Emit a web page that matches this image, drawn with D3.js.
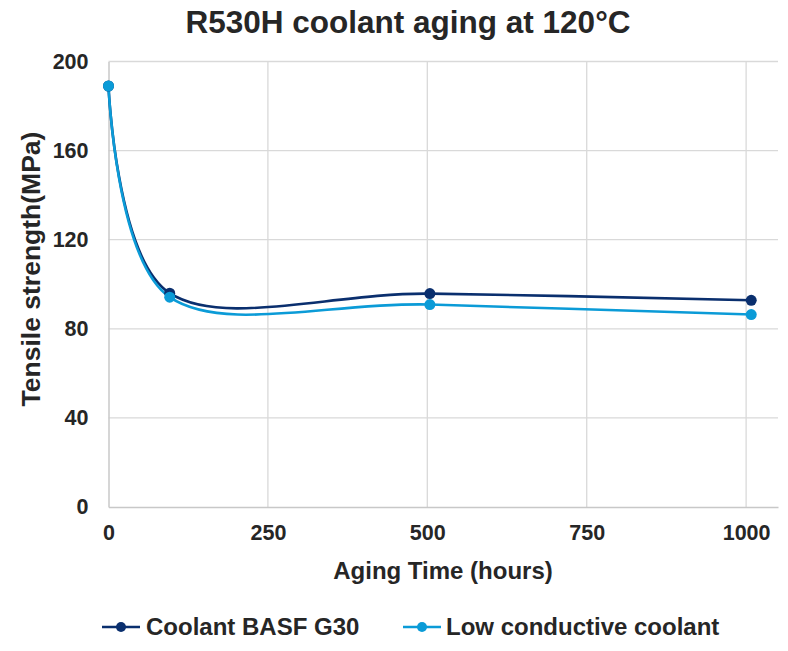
<!DOCTYPE html>
<html><head><meta charset="utf-8">
<script src="https://cdn.jsdelivr.net/npm/d3@7"></script>
<style>body{margin:0;background:#fff}svg{display:block}text{font-family:"Liberation Sans",Arial,sans-serif;font-weight:bold;fill:#262626}</style>
</head><body>
<svg id="c" width="788" height="651"></svg>
<script>
const hours = [0, 96, 504, 1008];
const basfG30 = [189, 96, 95.8, 92.8];
const lowConductive = [189, 94.2, 90.9, 86.4];
const seriesNames = ["Coolant BASF G30", "Low conductive coolant"];
const seriesColors = ["#0a2f6e", "#0b9bd7"];
const xTicks = [0, 250, 500, 750, 1000];
const yTicks = [0, 40, 80, 120, 160, 200];

const svg = d3.select("#c");
const m = {l: 108.5, r: 778, t: 61.5, b: 507};
const x = d3.scaleLinear().domain([0, 1050]).range([m.l, m.r]);
const y = d3.scaleLinear().domain([0, 200]).range([m.b, m.t]);

svg.append("text").attr("x", 408).attr("y", 33).attr("text-anchor", "middle")
  .style("font-size", "31.5px").text("R530H coolant aging at 120°C");

// gridlines
svg.append("g").selectAll("line").data(yTicks.filter(d => d > 0)).join("line")
  .attr("x1", m.l).attr("x2", m.r).attr("y1", d => y(d)).attr("y2", d => y(d))
  .attr("stroke", "#d9d9d9").attr("stroke-width", 1.3);
svg.append("g").selectAll("line").data(xTicks.filter(d => d > 0)).join("line")
  .attr("y1", m.t).attr("y2", m.b).attr("x1", d => x(d)).attr("x2", d => x(d))
  .attr("stroke", "#d9d9d9").attr("stroke-width", 1.3);

// axes
const xa = svg.append("g").attr("transform", `translate(0,${m.b})`)
  .call(d3.axisBottom(x).tickValues(xTicks).tickFormat(d3.format("d")).tickSize(0).tickPadding(18));
xa.select(".domain").attr("stroke", "#c8c8c8").attr("stroke-width", 1.5);
xa.selectAll("text").style("font-size", "21.5px").attr("fill", "#262626");
const ya = svg.append("g").attr("transform", `translate(${m.l},0)`)
  .call(d3.axisLeft(y).tickValues(yTicks).tickSize(0).tickPadding(20));
ya.select(".domain").attr("stroke", "#c8c8c8").attr("stroke-width", 1.5);
ya.selectAll("text").style("font-size", "21.5px").attr("fill", "#262626");

svg.append("text").attr("x", 443).attr("y", 579).attr("text-anchor", "middle")
  .style("font-size", "24px").text("Aging Time (hours)");
svg.append("text").attr("transform", "translate(40,269) rotate(-90)").attr("text-anchor", "middle")
  .style("font-size", "26.5px").text("Tensile strength(MPa)");

const series = [basfG30, lowConductive];
const line = d3.line().x(d => x(d[0])).y(d => y(d[1])).curve(d3.curveCardinal.tension(0));
series.forEach((vals, i) => {
  const pts = hours.map((h, j) => [h, vals[j]]);
  svg.append("path").attr("d", line(pts)).attr("fill", "none")
    .attr("stroke", seriesColors[i]).attr("stroke-width", 2.6);
});
series.forEach((vals, i) => {
  svg.append("g").selectAll("circle").data(hours.map((h, j) => [h, vals[j]])).join("circle")
    .attr("cx", d => x(d[0])).attr("cy", d => y(d[1])).attr("r", 5.5).attr("fill", seriesColors[i]);
});

// legend
const lg = [{x: 102, tx: 146}, {x: 403, tx: 446}];
seriesNames.forEach((n, i) => {
  const g = svg.append("g");
  g.append("line").attr("x1", lg[i].x).attr("x2", lg[i].x + 38).attr("y1", 627).attr("y2", 627)
    .attr("stroke", seriesColors[i]).attr("stroke-width", 2.6);
  g.append("circle").attr("cx", lg[i].x + 19).attr("cy", 627).attr("r", 5).attr("fill", seriesColors[i]);
  g.append("text").attr("x", lg[i].tx).attr("y", 635).style("font-size", "24px").text(n);
});
</script>
</body></html>
